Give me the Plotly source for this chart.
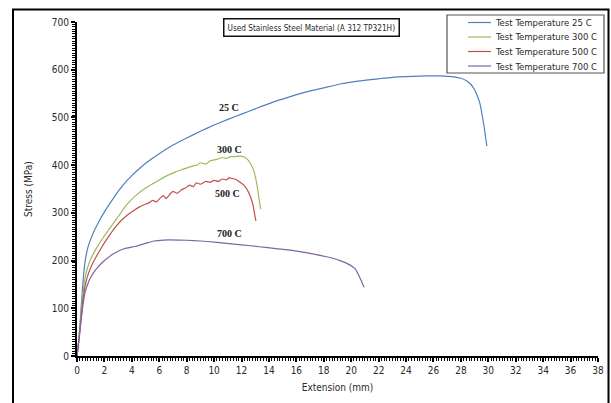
import plotly.graph_objects as go

# ---- data ----
x_25 = [0, 0.15, 0.3, 0.45, 0.6, 0.8, 1.0, 1.3, 1.6, 2.0, 2.5, 3.0, 3.5, 4.0, 4.6, 5.2, 6.0,
        7.0, 8.0, 9.0, 10.0, 11.0, 12.0, 13.0, 14.3, 15.5, 16.8, 18.0, 19.2, 20.5, 22.0, 23.0, 24.5,
        25.5, 26.5, 27.5, 28.0, 28.4, 28.7, 29.0, 29.2, 29.4, 29.55, 29.7, 29.8, 29.9]
y_25 = [0, 40, 100, 160, 200, 228, 245, 265, 282, 302, 324, 345, 363, 378, 394, 408, 424,
        442, 457, 471, 484, 496, 507, 518, 532, 543, 554, 562, 570, 576, 581, 584, 586,
        587, 587, 585, 582, 577, 570, 558, 545, 528, 505, 480, 458, 440]

x_300 = [0, 0.15, 0.3, 0.45, 0.6, 0.8, 1.0, 1.4, 2.0, 2.4, 3.0, 3.6, 4.2, 5.0, 6.0, 6.5, 7.2,
         7.7, 8.3, 8.8, 9.0, 9.4, 9.7, 10.2, 10.6, 10.9, 11.2, 11.5, 11.9, 12.2, 12.5, 12.7, 12.9,
         13.05, 13.2, 13.3, 13.4]
y_300 = [0, 38, 90, 135, 165, 188, 203, 225, 252, 268, 292, 316, 334, 352, 369, 377, 386,
         391, 397, 401, 405, 402, 409, 412, 416, 414, 418, 418, 419, 417, 410, 401, 388,
         370, 345, 325, 308]

x_500 = [0, 0.15, 0.3, 0.45, 0.6, 0.8, 1.1, 1.4, 1.8, 2.3, 2.8, 3.3, 3.8, 4.2, 4.6, 5.0, 5.3,
         5.5, 5.8, 6.1, 6.3, 6.5, 6.8, 7.0, 7.3, 7.6, 7.9, 8.2, 8.5, 8.7, 9.0, 9.4, 9.7, 10.0,
         10.3, 10.6, 10.9, 11.1, 11.3, 11.6, 11.9, 12.2, 12.5, 12.7, 12.85, 12.95, 13.05]
y_500 = [0, 35, 80, 120, 148, 170, 192, 208, 228, 250, 270, 286, 298, 306, 313, 318, 322,
         326, 323, 332, 336, 330, 340, 345, 341, 348, 352, 358, 355, 363, 360, 366, 364, 368,
         366, 371, 369, 374, 372, 370, 364, 357, 344, 330, 315, 298, 283]

x_700 = [0, 0.15, 0.3, 0.45, 0.6, 0.8, 1.0, 1.4, 2.0, 2.6, 3.1, 3.6, 4.3, 5.0, 5.6, 6.3, 7.5,
         8.5, 9.5, 10.9, 12.0, 13.3, 14.5, 15.8, 17.0, 18.2, 19.2, 19.9, 20.3, 20.5, 20.7, 20.85, 20.95]
y_700 = [0, 35, 75, 110, 135, 152, 165, 182, 200, 213, 221, 226, 230, 236, 241, 243, 243,
         242, 240, 236, 233, 229, 225, 221, 215, 208, 200, 191, 182, 172, 160, 150, 144]

series_names = ["Test Temperature 25 C", "Test Temperature 300 C",
                "Test Temperature 500 C", "Test Temperature 700 C"]
series_colors = ["#4F81BD", "#9BBB59", "#C0504D", "#8064A2"]

curve_labels = ["25 C", "300 C", "500 C", "700 C"]
label_x = [11.1, 11.1, 10.95, 11.1]
label_y = [520, 432, 340, 256]

x_ticks = list(range(0, 39, 2))
y_ticks = list(range(0, 701, 100))

SANS = "Liberation Sans Narrow, DejaVu Sans Condensed, Arial Narrow, sans-serif"
TXT = "#2a2a2a"

W, H = 611, 403
ML, MR, MT, MB = 77, 13, 22, 47
PW, PH = W - ML - MR, H - MT - MB


def px_x(px):
    return (px - ML) / PW


def px_y(py):
    return (H - MB - py) / PH


fig = go.Figure()
for xs, ys, name, col in zip([x_25, x_300, x_500, x_700], [y_25, y_300, y_500, y_700],
                             series_names, series_colors):
    fig.add_trace(go.Scatter(x=xs, y=ys, mode="lines", name=name, showlegend=False,
                             line=dict(color=col, width=1.2, shape="spline", smoothing=0.4)))

for t, lx, ly in zip(curve_labels, label_x, label_y):
    fig.add_annotation(x=lx, y=ly, text="<b>" + t + "</b>", showarrow=False,
                       font=dict(family="Liberation Serif, serif", size=10, color="#222"))

# title box
fig.add_annotation(xref="paper", yref="paper", x=px_x(311), y=px_y(27.5),
                   xanchor="center", yanchor="middle",
                   text="Used Stainless Steel Material (A 312 TP321H)", showarrow=False,
                   font=dict(family=SANS, size=8.2, color=TXT),
                   bordercolor="#111", borderwidth=1.5, borderpad=3, bgcolor="white")

# legend box (drawn to match the reference's compact legend)
fig.add_shape(type="rect", xref="paper", yref="paper",
              x0=px_x(447), x1=px_x(604), y0=px_y(73), y1=px_y(15),
              line=dict(color="#555", width=1.2), fillcolor="white", layer="above")
legend_rows = [22.5, 37, 51.5, 66]
for name, col, ry in zip(series_names, series_colors, legend_rows):
    fig.add_shape(type="line", xref="paper", yref="paper",
                  x0=px_x(468), x1=px_x(491), y0=px_y(ry), y1=px_y(ry),
                  line=dict(color=col, width=1.2), layer="above")
    fig.add_annotation(xref="paper", yref="paper", x=px_x(493), y=px_y(ry),
                       xanchor="left", yanchor="middle", text=name, showarrow=False,
                       font=dict(family=SANS, size=9.5, color=TXT))

# outer frame
fig.add_shape(type="rect", xref="paper", yref="paper",
              x0=px_x(13), x1=px_x(608.5), y0=px_y(420), y1=px_y(9.5),
              line=dict(color="black", width=2), layer="below")

fig.update_layout(
    width=W, height=H,
    margin=dict(l=ML, r=MR, t=MT, b=MB, autoexpand=False),
    paper_bgcolor="white", plot_bgcolor="white",
    showlegend=False,
    font=dict(family=SANS, size=10, color=TXT),
)
fig.update_xaxes(range=[0, 38], tickvals=x_ticks, showgrid=False, zeroline=False,
                 showline=True, linecolor="black", linewidth=2, automargin=False,
                 ticks="outside", ticklen=4, tickwidth=1.5, tickcolor="black",
                 minor=dict(dtick=0.2, ticks="outside", ticklen=3, tickwidth=1, tickcolor="black"),
                 tickfont=dict(family=SANS, size=10, color=TXT),
                 title=dict(text="Extension (mm)", font=dict(family=SANS, size=10, color=TXT), standoff=9))
fig.update_yaxes(range=[0, 700], tickvals=y_ticks, showgrid=False, zeroline=False,
                 showline=True, linecolor="black", linewidth=2, automargin=False,
                 ticks="outside", ticklen=4, tickwidth=1.5, tickcolor="black",
                 minor=dict(dtick=5, ticks="outside", ticklen=3, tickwidth=1, tickcolor="black"),
                 tickfont=dict(family=SANS, size=10, color=TXT),
                 title=dict(text="Stress (MPa)", font=dict(family=SANS, size=10, color=TXT), standoff=17))

fig.write_html("out.html", config={"displayModeBar": False},
               post_script="document.body.style.margin='0px';document.body.style.padding='0px';")
